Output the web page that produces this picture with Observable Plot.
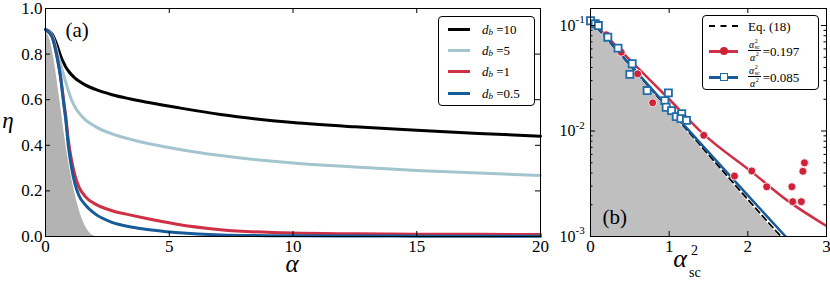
<!DOCTYPE html>
<html><head><meta charset="utf-8">
<script src="https://cdn.jsdelivr.net/npm/d3@7"></script>
<script src="https://cdn.jsdelivr.net/npm/@observablehq/plot@0.6"></script>
<style>
body{margin:0;background:#fff;}
#wrap{position:relative;width:830px;height:285px;overflow:hidden;font-family:"Liberation Serif",serif;color:#000;}
#wrap svg{position:absolute;top:0;overflow:visible;}
.lbl{position:absolute;font-style:italic;transform:translate(-50%,-50%);white-space:nowrap;line-height:8px;}
.legend{position:absolute;border:1px solid #000;border-radius:4px;background:#fff;}
.sw{position:absolute;height:3px;margin-top:-1.5px;}
.tx{position:absolute;font-size:13px;line-height:13px;transform:translateY(-50%);white-space:nowrap;display:flex;align-items:center;}
.mk{position:absolute;top:50%;left:50%;transform:translate(-50%,-50%);box-sizing:border-box;}
.frac{display:inline-flex;flex-direction:column;align-items:center;font-size:10px;line-height:10px;margin-right:2px;}
.frac .num{border-bottom:0.8px solid #000;padding:0 1px;display:flex;align-items:center;}
.frac .den{display:flex;align-items:center;padding-top:1px;}
.stk{display:inline-flex;flex-direction:column;font-size:6px;line-height:5.5px;font-style:normal;margin-left:0.5px;}
</style></head>
<body><div id="wrap"></div>
<script>
// ---------- Panel (a) data ----------
const alphaGrid = [0, 0.27, 0.47, 0.61, 0.74, 0.81, 0.92, 1.05, 1.19, 1.35, 1.6, 2.02, 2.69, 3.4, 4.04, 5.25, 7.07, 10, 12.5, 15, 17.5, 20];
const etaDb10 = [0.908, 0.888, 0.838, 0.792, 0.76, 0.745, 0.727, 0.71, 0.695, 0.682, 0.665, 0.645, 0.622, 0.604, 0.59, 0.567, 0.535, 0.5, 0.481, 0.466, 0.452, 0.44];
const etaDb5  = [0.908, 0.882, 0.81, 0.755, 0.705, 0.68, 0.64, 0.6, 0.568, 0.542, 0.513, 0.482, 0.45, 0.427, 0.41, 0.385, 0.355, 0.322, 0.305, 0.29, 0.278, 0.268];
const etaDb1  = [0.908, 0.874, 0.787, 0.7, 0.59, 0.535, 0.425, 0.335, 0.268, 0.218, 0.176, 0.142, 0.113, 0.095, 0.08, 0.055, 0.03, 0.015, 0.012, 0.01, 0.0095, 0.009];
const etaDb05 = [0.908, 0.874, 0.785, 0.697, 0.579, 0.52, 0.4, 0.304, 0.231, 0.18, 0.14, 0.098, 0.062, 0.043, 0.032, 0.018, 0.007, 0.003, 0.002, 0.0015, 0.001, 0.001];
const seriesLabels = ["10", "5", "1", "0.5"];
const seriesColors = ["#000000", "#a3c5d0", "#cf3045", "#175b98"];
const grayAlpha = [0, 0.2, 0.34, 0.6, 0.85, 1.19, 1.5, 1.75, 2.0, 2.3];
const grayEta   = [0.908, 0.866, 0.793, 0.6, 0.4, 0.2, 0.08, 0.027, 0.006, 0];
const xTicksA = [0, 5, 10, 15, 20];
const yTicksA = [0, 0.2, 0.4, 0.6, 0.8, 1.0];

// ---------- Panel (b) data ----------
const eqX = [0, 0.5, 1, 1.5, 2, 2.42];
const eqY = [0.112, 0.042, 0.0159, 0.00597, 0.00224, 0.001];
const fitRedX = [0, 0.5, 1, 1.44, 2.05, 2.5, 3];
const fitRedY = [0.113, 0.0473, 0.0200, 0.0093, 0.0041, 0.0022, 0.00126];
const fitBlueX = [0, 0.5, 1, 1.5, 2, 2.48];
const fitBlueY = [0.114, 0.0428, 0.0163, 0.0063, 0.00245, 0.001];
const redPtsX = [0.1, 0.2, 0.39, 0.6, 0.79, 1.14, 1.44, 1.83, 2.05, 2.24, 2.56, 2.57, 2.68, 2.70, 2.72];
const redPtsY = [0.102, 0.0816, 0.0558, 0.0348, 0.0185, 0.0146, 0.0091, 0.00374, 0.00418, 0.00296, 0.00296, 0.00214, 0.00214, 0.00415, 0.00499];
const bluePtsX = [0.0, 0.06, 0.1, 0.22, 0.35, 0.53, 0.5, 0.72, 0.99, 0.945, 0.962, 1.03, 1.09, 1.16, 1.149, 1.22];
const bluePtsY = [0.111, 0.104, 0.1, 0.0775, 0.061, 0.0434, 0.0344, 0.0242, 0.023, 0.0194, 0.0168, 0.0156, 0.0137, 0.0146, 0.0131, 0.0126];
const xTicksB = [0, 1, 2, 3];
const yMajorB = [0.001, 0.01, 0.1];
const yMajorExp = ["-3", "-2", "-1"];
const yMinorB = [0.002,0.003,0.004,0.005,0.006,0.007,0.008,0.009,0.02,0.03,0.04,0.05,0.06,0.07,0.08,0.09];
const yDomainB = [0.001, 0.145];

const FONT = "Liberation Serif";
const wrap = document.getElementById("wrap");

// ---------- Panel (a) ----------
const curvesA = [];
[etaDb10, etaDb5, etaDb1, etaDb05].forEach((ys, k) => {
  alphaGrid.forEach((a, i) => curvesA.push({alpha: a, eta: ys[i], s: seriesLabels[k]}));
});
const grayA = grayAlpha.map((a, i) => ({alpha: a, eta: grayEta[i]}));
const WA = 560, HA = 285, mlA = 45, mrA = 20, mtA = 8, mbA = 49;
const phA = HA - mtA - mbA, pwA = WA - mlA - mrA;

const plotA = Plot.plot({
  width: WA, height: HA, marginLeft: mlA, marginRight: mrA, marginTop: mtA, marginBottom: mbA,
  style: {fontFamily: FONT, fontSize: "16px", color: "#000", background: "transparent"},
  x: {domain: [0, 20]},
  y: {domain: [0, 1]},
  color: {domain: seriesLabels, range: seriesColors},
  marks: [
    Plot.areaY(grayA, {x: "alpha", y: "eta", fill: "#b3b3b3", curve: "monotone-x"}),
    Plot.line(grayA, {x: "alpha", y: "eta", stroke: "#fff", strokeWidth: 2, curve: "monotone-x"}),
    Plot.line(curvesA, {x: "alpha", y: "eta", z: "s", stroke: "s", strokeWidth: 3, curve: "monotone-x"}),
    Plot.frame({stroke: "#000", strokeWidth: 1}),
    Plot.tickX(xTicksA, {x: d => d, insetTop: phA - 5, stroke: "#000"}),
    Plot.tickX(xTicksA, {x: d => d, insetBottom: phA - 5, stroke: "#000"}),
    Plot.tickY(yTicksA, {y: d => d, insetRight: pwA - 5, stroke: "#000"}),
    Plot.tickY(yTicksA, {y: d => d, insetLeft: pwA - 5, stroke: "#000"}),
    Plot.axisX({ticks: xTicksA, tickSize: 0, tickPadding: 3, label: null, fontSize: 17, fontFamily: FONT, tickFormat: d3.format("d")}),
    Plot.axisY({ticks: yTicksA, tickSize: 0, tickPadding: 3, label: null, fontSize: 17, fontFamily: FONT, tickFormat: d3.format(".1f")}),
    Plot.text(["(a)"], {frameAnchor: "top-left", dx: 20, dy: 22, text: d => d, textAnchor: "start", lineAnchor: "middle", fontSize: 21, fontFamily: FONT})
  ]
});
plotA.style.left = "0px";
wrap.appendChild(plotA);

// ---------- Panel (b) ----------
const eqData = eqX.map((x, i) => ({x, y: eqY[i]}));
const redFit = fitRedX.map((x, i) => ({x, y: fitRedY[i]}));
const blueFit = fitBlueX.map((x, i) => ({x, y: fitBlueY[i]}));
const redPts = redPtsX.map((x, i) => ({x, y: redPtsY[i]}));
const bluePts = bluePtsX.map((x, i) => ({x, y: bluePtsY[i]}));
const WB = 270, HB = 285, mlB = 30, mrB = 4, mtB = 8, mbB = 49;
const phB = HB - mtB - mbB, pwB = WB - mlB - mrB;

const plotB = Plot.plot({
  width: WB, height: HB, marginLeft: mlB, marginRight: mrB, marginTop: mtB, marginBottom: mbB,
  style: {fontFamily: FONT, fontSize: "16px", color: "#000", background: "transparent"},
  x: {domain: [0, 3]},
  y: {type: "log", domain: yDomainB},
  marks: [
    Plot.areaY(eqData, {x: "x", y1: () => yDomainB[0], y2: "y", fill: "#bfbfbf", clip: true}),
    Plot.line(eqData, {x: "x", y: "y", stroke: "#fff", strokeWidth: 2.5, clip: true}),
    Plot.line(eqData, {x: "x", y: "y", stroke: "#000", strokeWidth: 1.8, strokeDasharray: "6,4", clip: true}),
    Plot.line(redFit, {x: "x", y: "y", stroke: "#cf3045", strokeWidth: 2.5, curve: "monotone-x", clip: true}),
    Plot.line(blueFit, {x: "x", y: "y", stroke: "#175b98", strokeWidth: 2.5, curve: "monotone-x", clip: true}),
    Plot.dot(redPts, {x: "x", y: "y", r: 4, fill: "#cf2238", stroke: "#fff", strokeWidth: 0.8}),
    Plot.dot(bluePts, {x: "x", y: "y", r: 4, symbol: "square", fill: "#fff", stroke: "#1f6aa8", strokeWidth: 1.8}),
    Plot.frame({stroke: "#000", strokeWidth: 1}),
    Plot.tickX(xTicksB, {x: d => d, insetTop: phB - 5, stroke: "#000"}),
    Plot.tickX(xTicksB, {x: d => d, insetBottom: phB - 5, stroke: "#000"}),
    Plot.tickY(yMajorB, {y: d => d, insetRight: pwB - 5, stroke: "#000"}),
    Plot.tickY(yMajorB, {y: d => d, insetLeft: pwB - 5, stroke: "#000"}),
    Plot.tickY(yMinorB, {y: d => d, insetRight: pwB - 2.5, stroke: "#000"}),
    Plot.tickY(yMinorB, {y: d => d, insetLeft: pwB - 2.5, stroke: "#000"}),
    Plot.axisX({ticks: xTicksB, tickSize: 0, tickPadding: 3, label: null, fontSize: 17, fontFamily: FONT, tickFormat: d3.format("d")}),
    Plot.axisY({ticks: yMajorB, tickSize: 0, tickPadding: 15, label: null, fontSize: 16, fontFamily: FONT, tickFormat: () => "10"}),
    Plot.text(yMajorB, {y: d => d, text: (d, i) => yMajorExp[i], frameAnchor: "left", dx: -15, dy: -6, textAnchor: "start", fontSize: 11, fontFamily: FONT}),
    Plot.text(["(b)"], {frameAnchor: "bottom-left", dx: 12, dy: -19, text: d => d, textAnchor: "start", lineAnchor: "middle", fontSize: 21, fontFamily: FONT})
  ]
});
plotB.style.left = "560px";
wrap.appendChild(plotB);

// ---------- HTML labels & legends ----------
function add(html) { wrap.insertAdjacentHTML("beforeend", html); }
add(`<div class="lbl" style="left:8px;top:121px;font-size:23px;">η</div>`);
add(`<div class="lbl" style="left:292px;top:264px;font-size:25px;">α</div>`);
add(`<div class="lbl" style="left:680px;top:259px;font-size:26px;">α</div>`);
add(`<div style="position:absolute;left:691px;top:244px;font-size:14px;line-height:14px;">2</div>`);
add(`<div style="position:absolute;left:689px;top:266px;font-size:14px;line-height:14px;">sc</div>`);

// legend (a)
let legA = `<div class="legend" style="left:438px;top:16px;width:95px;height:88px;">`;
const rowYA = [12, 33, 54, 76];
seriesLabels.forEach((s, k) => {
  legA += `<div class="sw" style="left:9px;width:22px;top:${rowYA[k]}px;background:${seriesColors[k]};"></div>`;
  legA += `<div class="tx" style="left:43px;top:${rowYA[k]}px;"><i>d</i><i style="font-size:9px;position:relative;top:3px;">b</i>&nbsp;=${s}</div>`;
});
legA += `</div>`;
add(legA);

// legend (b)
const fracHTML = `<span class="frac"><span class="num"><i>α</i><span class="stk"><span>2</span><span>sc</span></span></span><span class="den"><i>α</i><span class="stk"><span>2</span><span>&nbsp;</span></span></span></span>`;
let legB = `<div class="legend" style="left:702px;top:15px;width:115px;height:73px;">`;
legB += `<div class="sw" style="left:6px;width:29px;top:10px;height:0;margin-top:-1px;border-top:2px dashed #000;background:none;"></div>`;
legB += `<div class="tx" style="left:45px;top:10px;">Eq. (18)</div>`;
legB += `<div class="sw" style="left:6px;width:29px;top:35px;background:#cf3045;"><div class="mk" style="width:8px;height:8px;border-radius:50%;background:#cf2238;"></div></div>`;
legB += `<div class="tx" style="left:45px;top:35px;">${fracHTML}=0.197</div>`;
legB += `<div class="sw" style="left:6px;width:29px;top:61px;background:#175b98;"><div class="mk" style="width:8px;height:8px;background:#fff;border:1.8px solid #1f6aa8;"></div></div>`;
legB += `<div class="tx" style="left:45px;top:61px;">${fracHTML}=0.085</div>`;
legB += `</div>`;
add(legB);
</script>
</body></html>
